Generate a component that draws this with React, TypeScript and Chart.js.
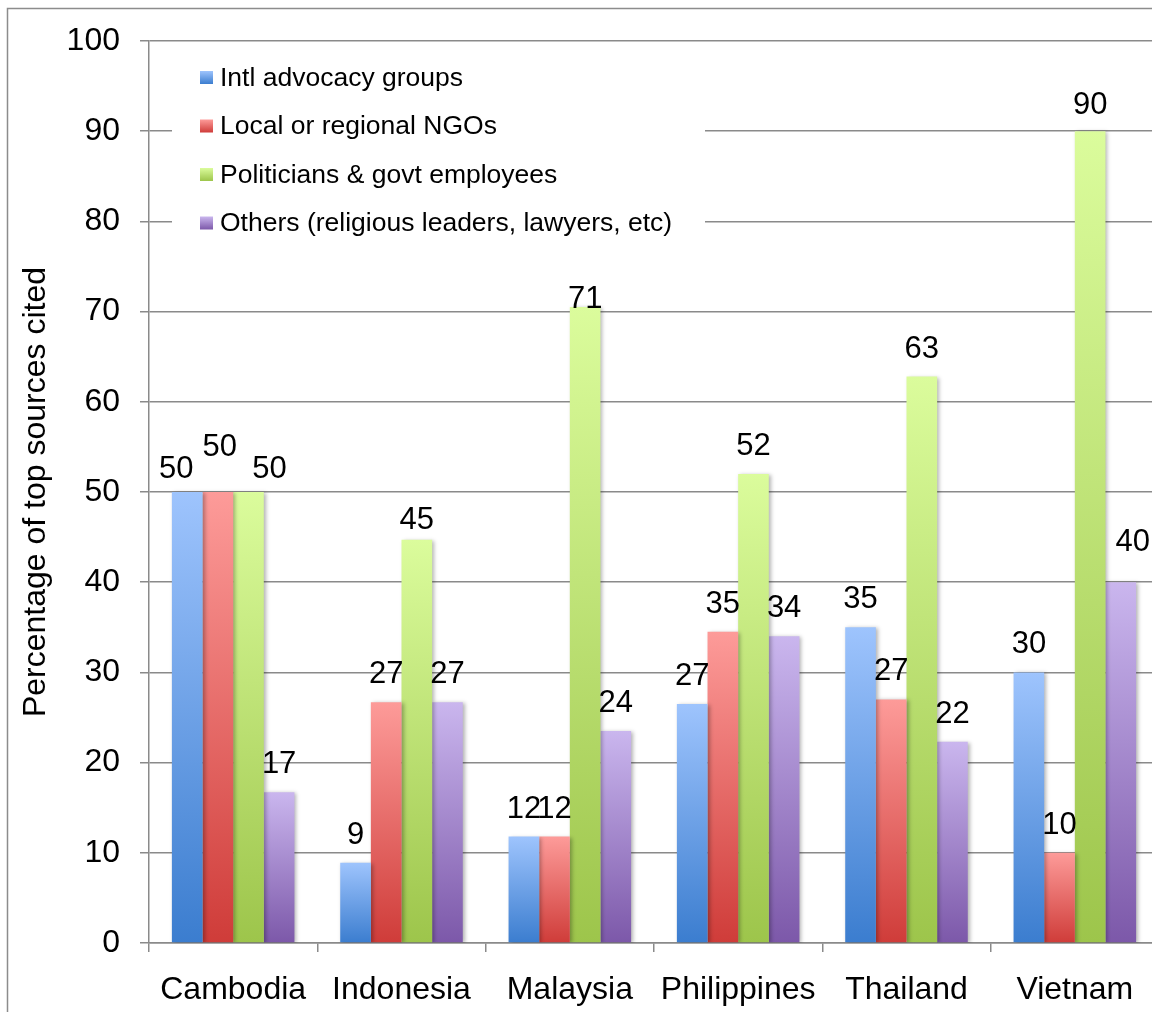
import React, { useEffect, useRef } from "react";
import { Chart, registerables } from "chart.js";

Chart.register(...registerables);

// Share of top sources cited, by country and source type
const categories = ["Cambodia", "Indonesia", "Malaysia", "Philippines", "Thailand", "Vietnam"];
const seriesNames = [
  "Intl advocacy groups",
  "Local or regional NGOs",
  "Politicians & govt employees",
  "Others (religious leaders, lawyers, etc)",
];
const intlAdvocacy = [50, 8.9, 11.8, 26.5, 35, 30];
const localNgos = [50, 26.7, 11.8, 34.5, 27, 10];
const politicians = [50, 44.7, 70.5, 52, 62.8, 90];
const others = [16.7, 26.7, 23.5, 34, 22.3, 40];
const yMin = 0;
const yMax = 100;
const yStep = 10;
const yTitle = "Percentage of top sources cited";

// top (light) and bottom (dark) colour of each series' bar gradient
const palette = [
  ["#9ec4fd", "#3b7dcf"],
  ["#fd9b99", "#cf3c39"],
  ["#dbfc9c", "#9dc54b"],
  ["#cab6ee", "#7c58a9"],
];

// hand-placed value labels: "dataset-index" -> [dx, dy]
const labelNudges: Record<string, [number, number]> = {
  "0-0": [-11, 5],
  "1-0": [2, -17],
  "2-0": [21, 5],
  "2-1": [0, 8],
  "2-2": [0, 20],
  "2-5": [0, 2],
  "3-5": [12, -12],
};

const FONT = '"Liberation Sans", Arial, sans-serif';
const GRID = "#8a8a8a";

function barGradient(ctx: any, series: number) {
  const chart = ctx.chart;
  const [light, dark] = palette[series];
  if (!chart.chartArea || ctx.type !== "data") return light;
  const y = chart.scales.y;
  const top = y.getPixelForValue(ctx.raw);
  const bottom = y.getPixelForValue(0);
  const g = chart.ctx.createLinearGradient(0, top, 0, bottom);
  g.addColorStop(0, light);
  g.addColorStop(1, dark);
  return g;
}

const decorPlugin = {
  id: "decor",
  beforeDraw(chart: any) {
    const c = chart.ctx;
    c.save();
    c.fillStyle = "#ffffff";
    c.fillRect(0, 0, chart.width, chart.height);
    c.strokeStyle = "#8c8c8c";
    c.lineWidth = 1.5;
    c.strokeRect(7.5, 8.5, chart.width + 50, chart.height + 50);
    c.restore();
  },
  afterDraw(chart: any) {
    const c = chart.ctx;
    const area = chart.chartArea;
    // rotated axis title
    c.save();
    c.translate(36, (area.top + area.bottom) / 2);
    c.rotate(-Math.PI / 2);
    c.font = `32px ${FONT}`;
    c.fillStyle = "#000";
    c.textAlign = "center";
    c.textBaseline = "middle";
    c.fillText(yTitle, 0, 0);
    c.restore();
  },
  beforeDatasetsDraw(chart: any) {
    const c = chart.ctx;
    c.save();
    c.shadowColor = "rgba(0,0,0,0.3)";
    c.shadowBlur = 4;
    c.shadowOffsetX = 2;
    c.shadowOffsetY = 1;
  },
  afterDatasetsDraw(chart: any) {
    const c = chart.ctx;
    c.restore();

    // legend inside the plot
    c.save();
    c.fillStyle = "#ffffff";
    c.fillRect(172, 52, 533, 196);
    const rows = [77.5, 126, 174.5, 223];
    chart.data.datasets.forEach((ds: any, i: number) => {
      const cy = rows[i];
      const g = c.createLinearGradient(0, cy - 6.5, 0, cy + 6.5);
      g.addColorStop(0, palette[i][0]);
      g.addColorStop(1, palette[i][1]);
      c.fillStyle = g;
      c.fillRect(200, cy - 6.5, 13, 13);
      c.fillStyle = "#000";
      c.font = `26.5px ${FONT}`;
      c.textAlign = "left";
      c.textBaseline = "middle";
      c.fillText(ds.label, 220, cy + 1);
    });
    c.restore();

    // value labels above the bars
    c.save();
    c.font = `31px ${FONT}`;
    c.fillStyle = "#000";
    c.textAlign = "center";
    c.textBaseline = "alphabetic";
    chart.data.datasets.forEach((ds: any, i: number) => {
      const meta = chart.getDatasetMeta(i);
      meta.data.forEach((bar: any, j: number) => {
        const [dx, dy] = labelNudges[`${i}-${j}`] || [0, 0];
        c.fillText(String(Math.round(ds.data[j])), bar.x + dx, bar.y - 19 + dy);
      });
    });
    c.restore();
  },
};

export default function App() {
  const ref = useRef<HTMLCanvasElement | null>(null);

  useEffect(() => {
    if (!ref.current) return;
    const seriesValues = [intlAdvocacy, localNgos, politicians, others];
    const chart = new Chart(ref.current, {
      type: "bar",
      data: {
        labels: categories,
        datasets: seriesValues.map((values, i) => ({
          label: seriesNames[i],
          data: values,
          backgroundColor: (ctx: any) => barGradient(ctx, i),
          borderWidth: 0,
          categoryPercentage: 0.728,
          barPercentage: 1,
        })),
      },
      options: {
        responsive: false,
        animation: false,
        devicePixelRatio: 1,
        layout: { padding: { left: 0, top: 41, right: 21, bottom: 0 } },
        plugins: {
          legend: { display: false },
          tooltip: { enabled: false },
        },
        scales: {
          x: {
            grid: {
              drawOnChartArea: false,
              drawTicks: true,
              tickLength: 9,
              color: GRID,
              lineWidth: 1.5,
              offset: true,
            },
            border: { color: GRID, width: 1.5 },
            ticks: {
              color: "#000",
              font: { family: FONT, size: 32 },
              padding: 19,
              maxRotation: 0,
              autoSkip: false,
            },
            afterFit(scale: any) {
              scale.height = 69;
            },
          },
          y: {
            min: yMin,
            max: yMax,
            grid: { color: GRID, lineWidth: 1.5, tickLength: 9 },
            border: { color: GRID, width: 1.5 },
            ticks: {
              stepSize: yStep,
              color: "#000",
              font: { family: FONT, size: 32 },
              padding: 20,
            },
            afterFit(scale: any) {
              scale.width = 149;
            },
          },
        },
      },
      plugins: [decorPlugin],
    });
    return () => chart.destroy();
  }, []);

  return (
    <div
      style={{
        position: "fixed",
        left: 0,
        top: 0,
        width: 1152,
        height: 1012,
        overflow: "hidden",
        background: "#fff",
      }}
    >
      <canvas
        ref={ref}
        width={1180}
        height={1012}
        style={{ display: "block", width: 1180, height: 1012 }}
      />
    </div>
  );
}
